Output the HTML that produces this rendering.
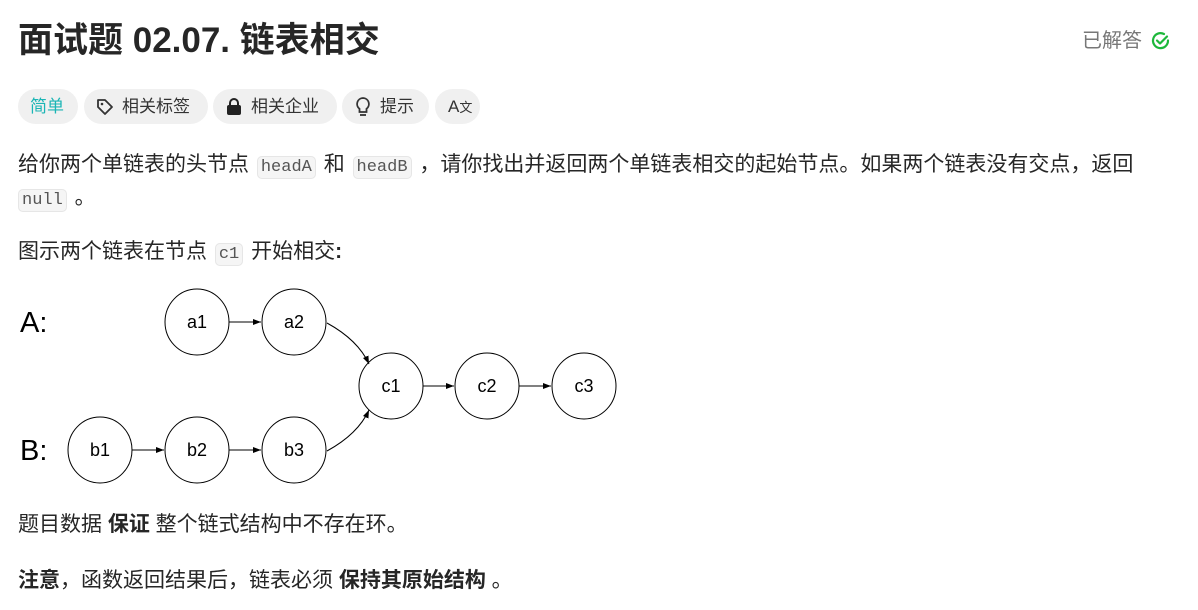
<!DOCTYPE html>
<html><head><meta charset="utf-8"><style>
*{margin:0;padding:0;box-sizing:border-box}
body{width:1198px;height:610px;background:#fff;position:relative;overflow:hidden;font-family:"Liberation Sans","Noto Sans CJK SC",sans-serif;color:#262626}
.a{position:absolute;white-space:nowrap}
.t{font-size:21px;line-height:28px}
code{font-family:"Liberation Mono","DejaVu Sans Mono",monospace;font-size:17px;background:#f5f5f5;border:1px solid #e6e6e6;border-radius:5px;padding:1px 3px;color:#555;margin:0 2px}
.tag{position:absolute;top:89px;height:35px;border-radius:18px;background:#f0f0f0;font-size:17px;line-height:35px;color:#333;padding:0 12px;white-space:nowrap}
b{font-weight:bold;color:#262626}
</style></head><body>
<div class="a" style="left:18px;top:18px;font-size:35px;font-weight:bold;line-height:46px">面试题 02.07. 链表相交</div>
<div class="a" style="left:1082px;top:27px;font-size:20px;color:#777;line-height:28px">已解答</div>
<svg class="a" style="left:1151px;top:31px" width="20" height="20" viewBox="0 0 20 20"><path d="M17 9.5A7.5 7.5 0 1 1 13 3" fill="none" stroke="#1db83b" stroke-width="2.2" stroke-linecap="round"/><path d="M6 9.5l3 3 7-7" fill="none" stroke="#1db83b" stroke-width="2.2" stroke-linecap="round" stroke-linejoin="round"/></svg>

<div class="tag" style="left:18px;width:60px;color:#1bb5b5">简单</div>
<div class="tag" style="left:84px;width:124px;padding-left:38px">相关标签<svg style="position:absolute;left:12px;top:9px" width="18" height="18" viewBox="0 0 18 18"><path d="M2 2h7l7 7-7 7-7-7z" fill="none" stroke="#333" stroke-width="1.8" stroke-linejoin="round"/><circle cx="6" cy="6" r="1.3" fill="#333"/></svg></div>
<div class="tag" style="left:213px;width:124px;padding-left:38px">相关企业<svg style="position:absolute;left:13px;top:9px" width="16" height="18" viewBox="0 0 16 18"><rect x="1" y="7" width="14" height="10" rx="2" fill="#222"/><path d="M4 8V5a4 4 0 0 1 8 0v3" fill="none" stroke="#222" stroke-width="2"/></svg></div>
<div class="tag" style="left:342px;width:87px;padding-left:38px">提示<svg style="position:absolute;left:13px;top:7px" width="16" height="22" viewBox="0 0 16 22"><path d="M8 2a6 6 0 0 0-3.5 10.8V16h7v-3.2A6 6 0 0 0 8 2z" fill="none" stroke="#333" stroke-width="1.8"/><path d="M5 19h6" stroke="#333" stroke-width="1.8"/></svg></div>
<div class="tag" style="left:435px;width:45px;padding-left:13px;font-size:17px">A<span style="font-size:13px">文</span></div>

<div class="a t" style="left:18px;top:151px">给你两个单链表的头节点 <code>headA</code> 和 <code>headB</code> ，请你找出并返回两个单链表相交的起始节点。如果两个链表没有交点，返回</div>
<div class="a t" style="left:18px;top:184px"><code style="margin-left:0">null</code> 。</div>
<div class="a t" style="left:18px;top:238px">图示两个链表在节点 <code>c1</code> 开始相交<b>:</b></div>

<svg class="a" style="left:0;top:280px" width="640" height="210" viewBox="0 280 640 210" font-family="Liberation Sans,sans-serif">
<defs><marker id="m" markerWidth="8" markerHeight="6" refX="8" refY="3" orient="auto" markerUnits="userSpaceOnUse"><path d="M0 0L8 3L0 6z" fill="#000"/></marker></defs>
<g fill="none" stroke="#000" stroke-width="1">
<ellipse cx="197" cy="322" rx="32" ry="33"/><ellipse cx="294" cy="322" rx="32" ry="33"/>
<ellipse cx="391" cy="386" rx="32" ry="33"/><ellipse cx="487" cy="386" rx="32" ry="33"/><ellipse cx="584" cy="386" rx="32" ry="33"/>
<ellipse cx="100" cy="450" rx="32" ry="33"/><ellipse cx="197" cy="450" rx="32" ry="33"/><ellipse cx="294" cy="450" rx="32" ry="33"/>
<line x1="229" y1="322" x2="261" y2="322" marker-end="url(#m)"/>
<line x1="132" y1="450" x2="164" y2="450" marker-end="url(#m)"/>
<line x1="229" y1="450" x2="261" y2="450" marker-end="url(#m)"/>
<line x1="423" y1="386" x2="454" y2="386" marker-end="url(#m)"/>
<line x1="519" y1="386" x2="551" y2="386" marker-end="url(#m)"/>
<path d="M327 323Q358 340 369 364" marker-end="url(#m)"/>
<path d="M327 451Q358 434 369 410" marker-end="url(#m)"/>
</g>
<g font-size="18" text-anchor="middle" fill="#000">
<text x="197" y="328">a1</text><text x="294" y="328">a2</text>
<text x="391" y="392">c1</text><text x="487" y="392">c2</text><text x="584" y="392">c3</text>
<text x="100" y="456">b1</text><text x="197" y="456">b2</text><text x="294" y="456">b3</text>
</g>
<text x="20" y="332" font-size="29" fill="#000">A:</text>
<text x="20" y="460" font-size="29" fill="#000">B:</text>
</svg>

<div class="a t" style="left:18px;top:511px">题目数据 <b>保证</b> 整个链式结构中不存在环。</div>
<div class="a t" style="left:18px;top:567px"><b>注意</b>，函数返回结果后，链表必须 <b>保持其原始结构</b> 。</div>
</body></html>
